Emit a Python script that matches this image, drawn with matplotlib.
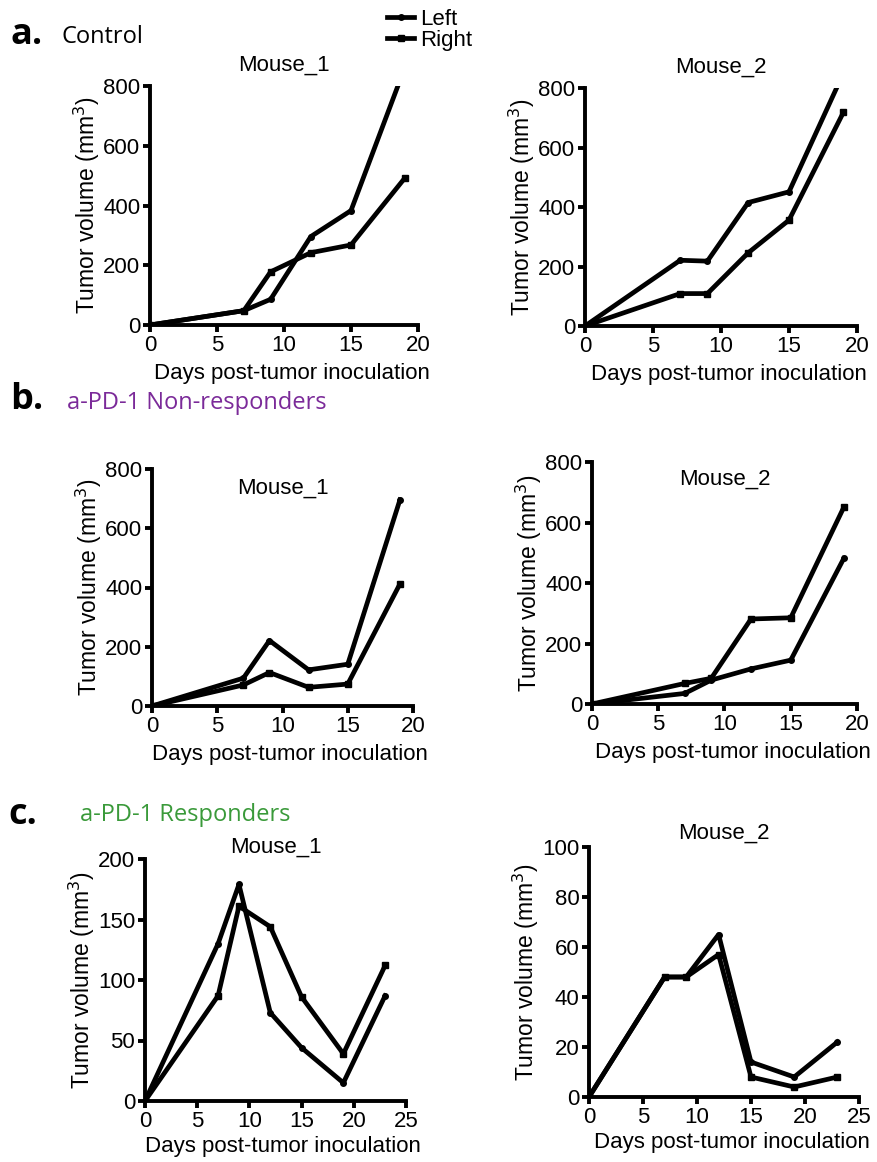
import numpy as np
import matplotlib
matplotlib.use("Agg")
import matplotlib.pyplot as plt
from matplotlib.lines import Line2D

plt.rcParams['font.family'] = ['Liberation Sans', 'DejaVu Sans']

W, H = 878, 1162

# --- data ---
days_ab = [0, 7, 9, 12, 15, 19]
days_c = [0, 7, 9, 12, 15, 19, 23]

ctrl_m1_left = [0, 48, 86, 296, 383, 860]
ctrl_m1_right = [0, 48, 178, 242, 268, 491]
ctrl_m2_left = [0, 221, 218, 415, 451, 850]
ctrl_m2_right = [0, 109, 109, 246, 356, 718]

nonr_m1_left = [0, 94, 221, 122, 141, 696]
nonr_m1_right = [0, 71, 113, 63, 74, 412]
nonr_m2_left = [0, 35, 79, 116, 145, 481]
nonr_m2_right = [0, 68, 85, 281, 285, 650]

resp_m1_left = [0, 130, 179, 73, 44, 15, 87]
resp_m1_right = [0, 87, 161, 144, 86, 39, 112]
resp_m2_left = [0, 48, 48, 65, 14, 8, 22]
resp_m2_right = [0, 48, 48, 57, 8, 4, 8]

section_labels = ['a.', 'b.', 'c.']
section_titles = ['Control', 'a-PD-1 Non-responders', 'a-PD-1 Responders']
section_colors = ['black', '#7b2a99', '#3a9a3a']

fig = plt.figure(figsize=(W / 100, H / 100), dpi=100)


def px_axes(left, right, top, bottom):
    return fig.add_axes([left / W, 1 - bottom / H, (right - left) / W, (bottom - top) / H])


def panel(ax, x, left, right, title, xmax, ymax, ystep, title_y=1.03, xlpad=5):
    ax.plot(x, left, color='black', lw=3.4, marker='o', ms=4, clip_on=True)
    ax.plot(x, right, color='black', lw=3.4, marker='s', ms=4, clip_on=True)
    ax.set_xlim(0, xmax)
    ax.set_ylim(0, ymax)
    ax.set_xticks(np.arange(0, xmax + 1, 5))
    ax.set_yticks(np.arange(0, ymax + 1, ystep))
    for s in ['top', 'right']:
        ax.spines[s].set_visible(False)
    for s in ['left', 'bottom']:
        ax.spines[s].set_linewidth(2.8)
    ax.tick_params(width=2.8, length=5, labelsize=16, pad=2)
    ax.set_xlabel('Days post-tumor inoculation', fontsize=16, labelpad=xlpad, x=0.53)
    ax.set_ylabel('Tumor volume (mm$^3$)', fontsize=16.5, labelpad=1)
    ax.set_title(title, fontsize=16, y=title_y)


a1 = px_axes(150, 418, 86, 325)
panel(a1, days_ab, ctrl_m1_left, ctrl_m1_right, 'Mouse_1', 20, 800, 200)
a2 = px_axes(585, 857, 88, 326)
panel(a2, days_ab, ctrl_m2_left, ctrl_m2_right, 'Mouse_2', 20, 800, 200)

b1 = px_axes(152, 413, 469, 706)
panel(b1, days_ab, nonr_m1_left, nonr_m1_right, 'Mouse_1', 20, 800, 200, title_y=0.86)
b2 = px_axes(592, 857, 462, 704)
panel(b2, days_ab, nonr_m2_left, nonr_m2_right, 'Mouse_2', 20, 800, 200, title_y=0.87)

c1 = px_axes(145, 406, 859, 1101)
panel(c1, days_c, resp_m1_left, resp_m1_right, 'Mouse_1', 25, 200, 50, title_y=0.99, xlpad=3)
c2 = px_axes(589, 859, 847, 1097)
panel(c2, days_c, resp_m2_left, resp_m2_right, 'Mouse_2', 25, 100, 20, title_y=1.0, xlpad=3)

# section headers
sec_pos = [(10, 35, 62, 37), (10, 400, 67, 403), (8, 815, 80, 815)]
for (x0, y0, xt, yt), lab, tit, col in zip(sec_pos, section_labels, section_titles, section_colors):
    fig.text(x0 / W, 1 - y0 / H, lab, fontsize=26, fontweight='bold',
             family=['Open Sans', 'DejaVu Sans'], va='center')
    fig.text(xt / W, 1 - yt / H, tit, fontsize=17, color=col,
             family=['Open Sans', 'DejaVu Sans'], va='center')

# legend
handles = [Line2D([], [], color='black', lw=3.4, marker='o', ms=4),
           Line2D([], [], color='black', lw=3.4, marker='s', ms=4)]
fig.legend(handles, ['Left', 'Right'], loc='center', bbox_to_anchor=(430 / W, 1 - 30 / H),
           frameon=False, fontsize=16, handlelength=1.2, handletextpad=0.3,
           labelspacing=0.0, borderpad=0)

fig.savefig('out.png', dpi=100)
